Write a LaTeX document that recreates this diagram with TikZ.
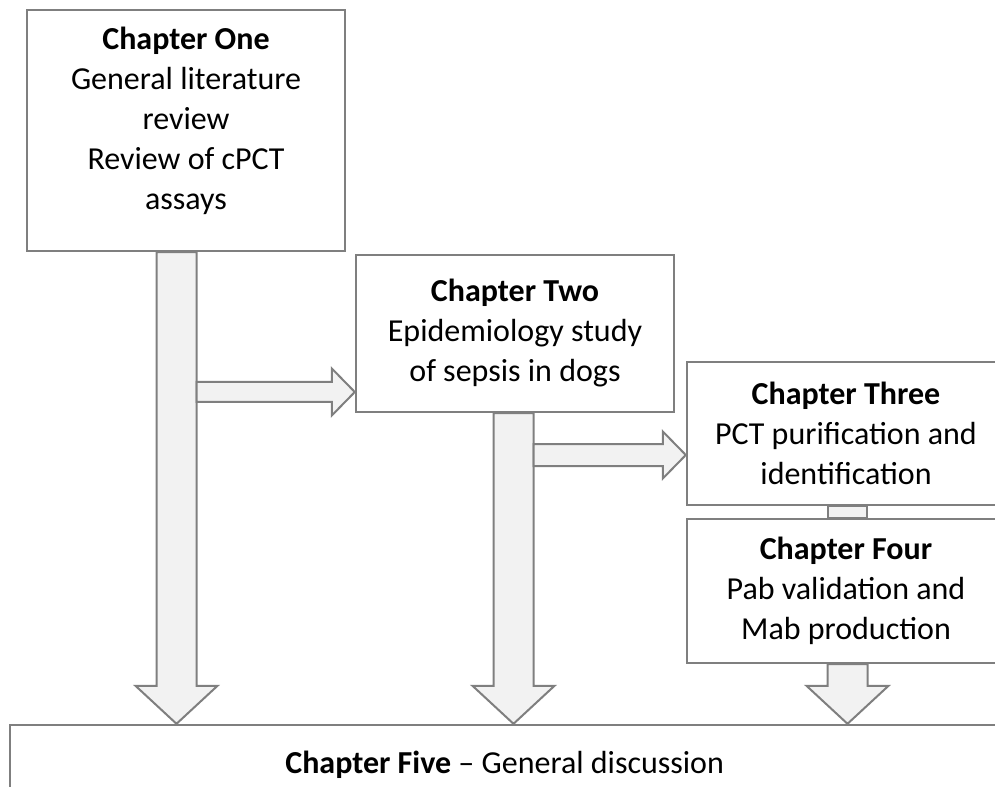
\documentclass[tikz,border=0pt]{standalone}
\usepackage{fontspec}
\setmainfont{Carlito}
\usetikzlibrary{calc}
\definecolor{edgegray}{RGB}{127,127,127}
\definecolor{arrowfill}{RGB}{242,242,242}
\begin{document}
\begin{tikzpicture}[x=0.75pt, y=-0.75pt,
  chapbox/.style={draw=edgegray, line width=1.8pt, fill=white, align=center,
    inner sep=0pt, minimum width=238.5pt, font=\fontsize{24}{30}\selectfont},
  blkarrow/.style={draw=edgegray, line width=1.5pt, fill=arrowfill, line join=miter}]
  %% Page is the 995 x 787 frame; boxes on the right run past it.
  \clip (0,0) rectangle (995,787);

  \def\hw{20}   % half width of a down shaft
  \def\hh{41}   % half width of a down head
  \def\hl{38}   % length of a down head

  \node[chapbox, minimum height=180.75pt] (one) at (186,130.5)
    {\begin{tabular}{@{}c@{}}\textbf{Chapter One}\\ General literature\\ review\\
     Review of cPCT\\ assays\\[14pt]\end{tabular}};
  \node[chapbox, minimum height=117.75pt] (two) at (515,333.5)
    {\textbf{Chapter Two}\\ Epidemiology study\\ of sepsis in dogs};
  \node[chapbox, minimum height=107.25pt] (three) at (846,433.5)
    {\textbf{Chapter Three}\\ PCT purification and\\ identification};
  \node[chapbox, minimum height=108pt] (four) at (846,591)
    {\textbf{Chapter Four}\\ Pab validation and\\ Mab production};
  \node[chapbox, minimum width=750pt, minimum height=60pt] (five) at (510,765)
    {\textbf{Chapter Five} -- General discussion\hspace*{8pt}};

  %% Down arrows into the discussion box.
  \foreach \x/\src in {176.5/one, 513.5/two, 847.5/four} {
    \filldraw[blkarrow] ({\x-\hw},0 |- \src.south)
      -- ($({\x-\hw},0 |- five.north)+(0,-\hl)$) -- ++({\hw-\hh},0)
      -- (\x,0 |- five.north)
      -- ($({\x+\hh},0 |- five.north)+(0,-\hl)$) -- ++({\hw-\hh},0)
      -- ({\x+\hw},0 |- \src.south) -- cycle;
  }
  %% Short link between chapters three and four.
  \filldraw[blkarrow] (828,0 |- three.south) rectangle (867,0 |- four.north);

  %% Side arrows branching off the shafts.
  \coordinate (branchA) at (196.5,392);
  \coordinate (branchB) at (533.5,455);
  \foreach \a/\dst/\h in {branchA/two/10, branchB/three/11} {
    \filldraw[blkarrow] ($(\a)+(0,-\h)$)
      -- ($(\dst.west |- \a)+(-23,-\h)$) -- ++(0,{\h-23.5})
      -- (\dst.west |- \a)
      -- ($(\dst.west |- \a)+(-23,23.5)$) -- ++(0,{\h-23.5})
      -- ($(\a)+(0,\h)$) -- cycle;
  }
\end{tikzpicture}
\end{document}
